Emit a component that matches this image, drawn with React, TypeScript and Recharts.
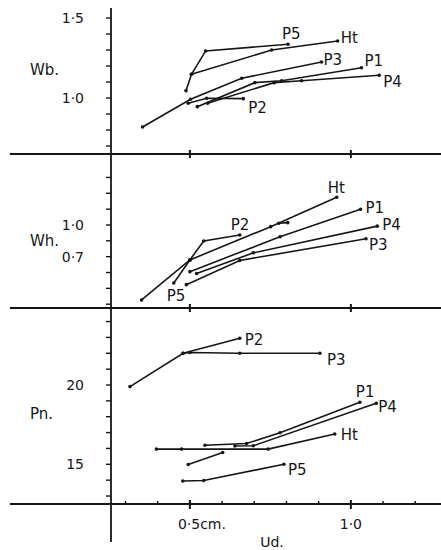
import React from 'react';
import { LineChart, Line, XAxis, YAxis, ReferenceLine } from 'recharts';

type Pt = { x: number; y: number | null };

// ---------- Wb. panel ----------
const wbP5: Pt[] = [{ x: 0.488, y: 1.046 }, { x: 0.505, y: 1.148 }, { x: 0.549, y: 1.294 }, { x: 0.805, y: 1.336 }];
const wbHt: Pt[] = [{ x: 0.505, y: 1.148 }, { x: 0.754, y: 1.3 }, { x: 0.959, y: 1.356 }];
const wbP3: Pt[] = [{ x: 0.353, y: 0.819 }, { x: 0.502, y: 0.992 }, { x: 0.661, y: 1.123 }, { x: 0.909, y: 1.225 }];
const wbP1: Pt[] = [{ x: 0.523, y: 0.946 }, { x: 0.702, y: 1.096 }, { x: 0.785, y: 1.108 }, { x: 1.033, y: 1.189 }];
const wbP4: Pt[] = [{ x: 0.555, y: 0.967 }, { x: 0.762, y: 1.096 }, { x: 0.847, y: 1.108 }, { x: 1.088, y: 1.142 }];
const wbP2: Pt[] = [{ x: 0.495, y: 0.967 }, { x: 0.552, y: 0.998 }, { x: 0.666, y: 0.996 }];
const wbTicks = [0.7, 0.8, 0.9, 1.0, 1.1, 1.2, 1.3, 1.4, 1.5];
const wbTickText = ['', '', '', '1·0', '', '', '', '', '1·5'];

// ---------- Wh. panel ----------
const whHt: Pt[] = [{ x: 0.35, y: 0.29 }, { x: 0.5, y: 0.669 }, { x: 0.751, y: 0.984 }, { x: 0.956, y: 1.262 }];
const whP2: Pt[] = [{ x: 0.5, y: 0.669 }, { x: 0.543, y: 0.848 }, { x: 0.655, y: 0.905 }, { x: 0.72, y: null }, { x: 0.776, y: 1.016 }, { x: 0.804, y: 1.022 }];
const whP5: Pt[] = [{ x: 0.45, y: 0.451 }, { x: 0.5, y: 0.669 }];
const whP1: Pt[] = [{ x: 0.5, y: 0.558 }, { x: 0.78, y: 0.889 }, { x: 1.03, y: 1.149 }];
const whP4: Pt[] = [{ x: 0.521, y: 0.541 }, { x: 0.697, y: 0.736 }, { x: 1.082, y: 0.989 }];
const whP3: Pt[] = [{ x: 0.489, y: 0.435 }, { x: 0.655, y: 0.664 }, { x: 1.047, y: 0.869 }];
const whTicks = [0.25, 0.4, 0.55, 0.7, 0.85, 1.0, 1.15, 1.3, 1.45];
const whTickText = ['', '', '', '0·7', '', '1·0', '', '', ''];

// ---------- Pn. panel ----------
const pnP2: Pt[] = [{ x: 0.314, y: 19.9 }, { x: 0.479, y: 22.0 }, { x: 0.655, y: 22.95 }];
const pnP3: Pt[] = [{ x: 0.479, y: 22.0 }, { x: 0.5, y: 22.05 }, { x: 0.655, y: 22.0 }, { x: 0.904, y: 22.0 }];
const pnP1: Pt[] = [{ x: 0.547, y: 16.2 }, { x: 0.676, y: 16.31 }, { x: 0.78, y: 16.99 }, { x: 1.028, y: 18.91 }];
const pnP4: Pt[] = [{ x: 0.495, y: 14.99 }, { x: 0.602, y: 15.74 }, { x: 0.62, y: null }, { x: 0.64, y: 16.15 }, { x: 0.697, y: 16.17 }, { x: 1.079, y: 18.85 }];
const pnHt: Pt[] = [{ x: 0.396, y: 15.96 }, { x: 0.474, y: 15.96 }, { x: 0.743, y: 15.96 }, { x: 0.95, y: 16.91 }];
const pnP5: Pt[] = [{ x: 0.478, y: 13.95 }, { x: 0.543, y: 13.98 }, { x: 0.792, y: 15.0 }];
const pnTicks = [13, 14, 15, 16, 17, 18, 19, 20, 21, 22, 23, 24];
const pnTickText = ['', '', '15', '', '', '', '', '20', '', '', '', ''];

// ---------- x axis ----------
const xMinorTicks = [0.3, 0.4, 0.5, 0.6, 0.7, 0.8, 0.9, 1.0, 1.1, 1.2];
const xMajorTicks = [0.5, 1.0];
const xMajorText = ['0·5cm.', '1·0'];
const xTitle = 'Ud.';

const INK = '#161616';
const FONT = 'DejaVu Sans, sans-serif';
const X_DOMAIN: [number, number] = [0.255, 1.28];
const LEFT_EDGE = -0.059;

type Series = { name: string; data: Pt[]; at: number; dx: number; dy: number };

const endLabel = (s: Series) => (props: any) => {
  if (props.index !== s.at || props.x == null || props.y == null) return <g />;
  return (
    <text x={props.x + s.dx} y={props.y + s.dy} fontSize={15} fontFamily={FONT} fill={INK}>
      {s.name}
    </text>
  );
};

const CrossTick = (props: any) => {
  const { x, y, payload } = props;
  if (!xMajorTicks.includes(payload.value)) return <g />;
  return <line x1={x} x2={x} y1={y - 4} y2={y + 4} stroke={INK} strokeWidth={2} />;
};

const BottomTick = (props: any) => {
  const { x, y, payload } = props;
  const mi = xMajorTicks.indexOf(payload.value);
  if (mi < 0) {
    return <line x1={x} x2={x} y1={y - 3} y2={y} stroke={INK} strokeWidth={1.5} />;
  }
  return (
    <g>
      <line x1={x} x2={x} y1={y - 4} y2={y + 5} stroke={INK} strokeWidth={2} />
      <text x={mi === 0 ? x - 12 : x} y={y + 25} textAnchor={mi === 0 ? 'start' : 'middle'} fontSize={14} fontFamily={FONT} fill={INK}>
        {xMajorText[mi]}
      </text>
    </g>
  );
};

type PanelProps = {
  top: number;
  height: number;
  xAxisHeight: number;
  yDomain: [number, number];
  yTicks: number[];
  yTickText: string[];
  yLabel: string;
  yLabelDy: number;
  series: Series[];
  bottom?: boolean;
};

function Panel(p: PanelProps) {
  return (
    <div style={{ position: 'absolute', left: 0, top: p.top }}>
      <LineChart width={441} height={p.height} margin={{ top: 8, right: 0, bottom: 0, left: 0 }}>
        <XAxis
          type="number"
          dataKey="x"
          domain={X_DOMAIN}
          allowDataOverflow
          ticks={p.bottom ? xMinorTicks : xMajorTicks}
          interval={0}
          tickLine={false}
          axisLine={false}
          tickSize={0}
          tickMargin={0}
          height={p.xAxisHeight}
          tick={p.bottom ? <BottomTick /> : <CrossTick />}
          label={
            p.bottom
              ? { value: xTitle, position: 'insideBottom', offset: 3, dx: -4, style: { fontSize: 14, fontFamily: FONT, fill: INK } }
              : undefined
          }
        />
        <YAxis
          type="number"
          domain={p.yDomain}
          allowDataOverflow
          ticks={p.yTicks}
          interval={0}
          tickFormatter={(v: number) => p.yTickText[p.yTicks.indexOf(v)] ?? ''}
          width={111}
          tickSize={5}
          tickMargin={22}
          axisLine={{ stroke: INK, strokeWidth: 1.8 }}
          tickLine={{ stroke: INK, strokeWidth: 1.4 }}
          tick={{ fontSize: 14, fontFamily: FONT, fill: INK }}
          label={{
            value: p.yLabel,
            position: 'insideLeft',
            offset: 30,
            dy: p.yLabelDy,
            style: { fontSize: 15, fontFamily: FONT, fill: INK },
          }}
        />
        <ReferenceLine
          segment={[{ x: LEFT_EDGE, y: p.yDomain[0] }, { x: X_DOMAIN[1], y: p.yDomain[0] }]}
          stroke={INK}
          strokeWidth={2}
          ifOverflow="visible"
        />
        {p.bottom && (
          <ReferenceLine
            segment={[{ x: X_DOMAIN[0], y: p.yDomain[0] }, { x: X_DOMAIN[0], y: 10.1 }]}
            stroke={INK}
            strokeWidth={1.8}
            ifOverflow="visible"
          />
        )}
        {p.series.map((s, i) => (
          <Line
            key={s.name + i}
            data={s.data}
            dataKey="y"
            type="linear"
            stroke={INK}
            strokeWidth={1.6}
            dot={{ r: 1.8, fill: INK, stroke: 'none' }}
            activeDot={false}
            isAnimationActive={false}
            label={endLabel(s)}
          />
        ))}
      </LineChart>
    </div>
  );
}

const wbSeries: Series[] = [
  { name: 'P5', data: wbP5, at: 3, dx: -6, dy: -5 },
  { name: 'Ht', data: wbHt, at: 2, dx: 3, dy: 2 },
  { name: 'P3', data: wbP3, at: 3, dx: 2, dy: 3 },
  { name: 'P1', data: wbP1, at: 3, dx: 3, dy: -2 },
  { name: 'P4', data: wbP4, at: 3, dx: 4, dy: 12 },
  { name: 'P2', data: wbP2, at: 2, dx: 5, dy: 14 },
];

const whSeries: Series[] = [
  { name: 'Ht', data: whHt, at: 3, dx: -9, dy: -4 },
  { name: 'P2', data: whP2, at: 2, dx: -9, dy: -5 },
  { name: 'P5', data: whP5, at: 0, dx: -7, dy: 18 },
  { name: 'P1', data: whP1, at: 2, dx: 5, dy: 4 },
  { name: 'P4', data: whP4, at: 2, dx: 5, dy: 4 },
  { name: 'P3', data: whP3, at: 2, dx: 3, dy: 11 },
];

const pnSeries: Series[] = [
  { name: 'P2', data: pnP2, at: 2, dx: 5, dy: 7 },
  { name: 'P3', data: pnP3, at: 3, dx: 7, dy: 12 },
  { name: 'P1', data: pnP1, at: 3, dx: -4, dy: -5 },
  { name: 'P4', data: pnP4, at: 5, dx: 2, dy: 9 },
  { name: 'Ht', data: pnHt, at: 3, dx: 6, dy: 6 },
  { name: 'P5', data: pnP5, at: 2, dx: 4, dy: 11 },
];

export default function App() {
  return (
    <div style={{ position: 'absolute', left: 0, top: 0, width: 441, height: 550, background: '#fff', overflow: 'hidden' }}>
      <Panel
        top={0}
        height={175}
        xAxisHeight={21}
        yDomain={[0.65, 1.5625]}
        yTicks={wbTicks}
        yTickText={wbTickText}
        yLabel="Wb."
        yLabelDy={-11}
        series={wbSeries}
      />
      <Panel
        top={146}
        height={183}
        xAxisHeight={21}
        yDomain={[0.214, 1.672]}
        yTicks={whTicks}
        yTickText={whTickText}
        yLabel="Wh."
        yLabelDy={10}
        series={whSeries}
      />
      <Panel
        top={300}
        height={250}
        xAxisHeight={46}
        yDomain={[12.497, 24.855]}
        yTicks={pnTicks}
        yTickText={pnTickText}
        yLabel="Pn."
        yLabelDy={8}
        series={pnSeries}
        bottom
      />
    </div>
  );
}
